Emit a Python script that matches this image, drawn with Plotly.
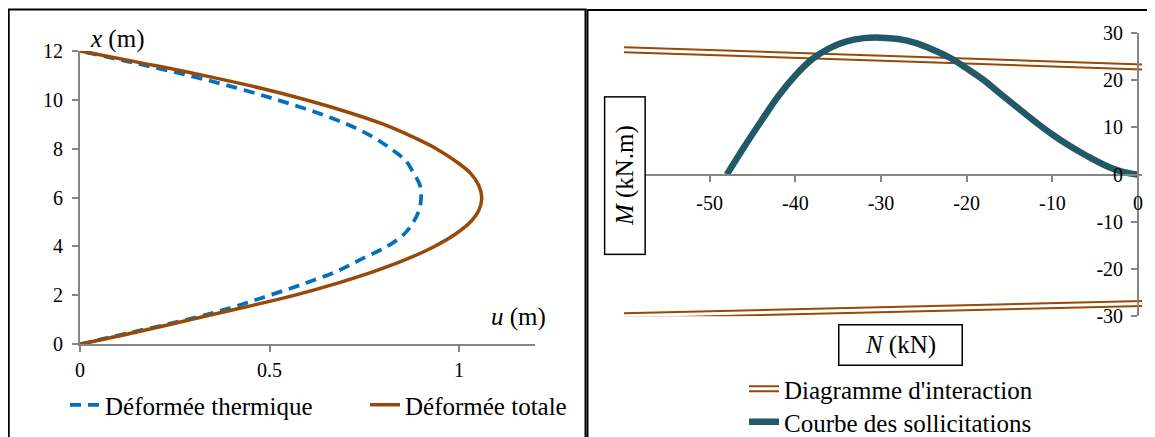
import plotly.graph_objects as go

W, H = 1155, 437
FONT = "Liberation Serif"
OFF = 8  # page body margin of the browser

# ---------------- data: left chart (deformed shapes) ----------------
x_pos = [0, 0.5, 1, 1.5, 2, 2.5, 3, 3.5, 4, 4.5, 5, 5.5, 6,
         6.5, 7, 7.5, 8, 8.5, 9, 9.5, 10, 10.5, 11, 11.5, 12]
u_thermique = [0, 0.14, 0.28, 0.40, 0.50, 0.595, 0.68, 0.745, 0.81, 0.855, 0.88, 0.895, 0.90,
               0.897, 0.88, 0.86, 0.82, 0.77, 0.705, 0.62, 0.52, 0.41, 0.285, 0.145, 0]
u_totale = [0, 0.15, 0.29, 0.43, 0.565, 0.68, 0.78, 0.865, 0.935, 0.99, 1.03, 1.053, 1.06,
            1.052, 1.03, 0.99, 0.94, 0.875, 0.80, 0.705, 0.595, 0.47, 0.325, 0.165, 0]

# ---------------- data: right chart (interaction) ----------------
N_interaction = [-60, 0.5, None, -60, 0.5]
M_interaction = [26.45, 22.8, None, -29.9, -27.3]

N_sollicitations = [-48, -46, -44, -42, -40, -38, -36, -34, -32, -30, -28, -26, -24,
                    -22, -20, -18, -16, -14, -12, -10, -8, -6, -4, -2, 0]
M_sollicitations = [0, 5.8, 11.3, 16.6, 21.0, 24.5, 26.8, 28.2, 28.9, 29.0, 28.7, 27.9, 26.5,
                    24.8, 22.5, 20.0, 17.0, 14.1, 11.2, 8.5, 6.1, 4.0, 2.1, 0.7, 0]

left_xtick_vals = [0, 0.5, 1]
left_xtick_text = ["0", "0.5", "1"]
left_ytick_vals = [0, 2, 4, 6, 8, 10, 12]
right_xtick_vals = [-50, -40, -30, -20, -10, 0]
right_xtick_text = ["-50", "-40", "-30", "-20", "-10", "0"]
right_ytick_vals = [-30, -20, -10, 0, 10, 20, 30]
right_ytick_text = ["-30", "-20", "-10", "0", "10", "20", "30"]

BLUE = "#0070C0"
BROWN = "#984807"
TEAL = "#215968"
AXIS_GRAY = "#868686"


def px(x):
    return (x - OFF) / W


def py(y):
    return 1 - (y - OFF) / H


fig = go.Figure()

fig.add_trace(go.Scatter(x=u_thermique, y=x_pos, mode="lines", name="Déformée thermique",
                         line=dict(color=BLUE, width=3.75, dash="11px,7px", shape="spline"),
                         xaxis="x", yaxis="y", legend="legend"))
fig.add_trace(go.Scatter(x=u_totale, y=x_pos, mode="lines", name="Déformée totale",
                         line=dict(color=BROWN, width=3.5, shape="spline"),
                         xaxis="x", yaxis="y", legend="legend"))

fig.add_trace(go.Scatter(x=N_interaction, y=M_interaction, mode="lines", name="Diagramme d'interaction",
                         line=dict(color=BROWN, width=7), xaxis="x2", yaxis="y2", legend="legend2"))
fig.add_trace(go.Scatter(x=N_interaction, y=M_interaction, mode="lines", name=" ",
                         line=dict(color="white", width=3), xaxis="x2", yaxis="y2", legend="legend3"))
fig.add_trace(go.Scatter(x=N_sollicitations, y=M_sollicitations, mode="lines",
                         name="Courbe des sollicitations",
                         line=dict(color=TEAL, width=6.5, shape="spline"),
                         xaxis="x2", yaxis="y2", legend="legend4"))

axis_common = dict(showgrid=False, zeroline=False, showline=True, linecolor=AXIS_GRAY, linewidth=1.8,
                   ticks="outside", ticklen=6, tickwidth=1.5, tickcolor=AXIS_GRAY,
                   tickfont=dict(family=FONT, size=20, color="black"), automargin=False)

legend_font = dict(family=FONT, size=25, color="black")

fig.update_layout(
    width=W, height=H,
    margin=dict(l=0, r=0, t=0, b=0),
    paper_bgcolor="white", plot_bgcolor="white",
    font=dict(family=FONT, size=20, color="black"),
    xaxis=dict(domain=[px(80), px(534.8)], range=[0, 1.2], tickvals=left_xtick_vals,
               ticktext=left_xtick_text, anchor="y", ticklabelstandoff=1, **axis_common),
    yaxis=dict(domain=[py(345), py(51)], range=[0, 12], tickvals=left_ytick_vals,
               anchor="x", ticklabelstandoff=5, **axis_common),
    xaxis2=dict(domain=[px(624), px(1142.3)], range=[-60, 0.5], tickvals=right_xtick_vals,
                ticktext=right_xtick_text, anchor="free", position=py(175),
                ticklabelstandoff=4, **axis_common),
    yaxis2=dict(domain=[py(317), py(33)], range=[-30, 30], tickvals=right_ytick_vals,
                ticktext=right_ytick_text, anchor="free", position=px(1138), side="left",
                ticklabelstandoff=4, **axis_common),
    legend=dict(orientation="h", x=px(65), xanchor="left", y=py(405), yanchor="middle",
                font=legend_font, bgcolor="rgba(0,0,0,0)",
                entrywidth=255, entrywidthmode="pixels"),
    legend2=dict(x=px(744), xanchor="left", y=py(389), yanchor="middle",
                 font=legend_font, bgcolor="rgba(0,0,0,0)"),
    legend3=dict(x=px(744), xanchor="left", y=py(389), yanchor="middle",
                 font=legend_font, bgcolor="rgba(0,0,0,0)"),
    legend4=dict(x=px(744), xanchor="left", y=py(423), yanchor="middle",
                 font=legend_font, bgcolor="rgba(0,0,0,0)"),
    showlegend=True,
)

# axis titles
fig.add_annotation(text="<i>x</i> (m)", x=px(117), y=py(39), xref="paper", yref="paper",
                   showarrow=False, xanchor="center", yanchor="middle",
                   font=dict(family=FONT, size=25, color="black"))
fig.add_annotation(text="<i>u</i> (m)", x=px(518), y=py(318), xref="paper", yref="paper",
                   showarrow=False, xanchor="center", yanchor="middle",
                   font=dict(family=FONT, size=25, color="black"))
fig.add_annotation(text="<i>M</i> (kN.m)", x=px(624.5), y=py(176), xref="paper", yref="paper",
                   showarrow=False, xanchor="center", yanchor="middle", textangle=-90,
                   width=152, height=35, borderpad=2, bordercolor="black", borderwidth=1.5,
                   bgcolor="white", font=dict(family=FONT, size=25, color="black"))
fig.add_annotation(text="<i>N</i> (kN)", x=px(900.5), y=py(346), xref="paper", yref="paper",
                   showarrow=False, xanchor="center", yanchor="middle",
                   width=118, height=35, borderpad=2, bordercolor="black", borderwidth=1.5,
                   bgcolor="white", font=dict(family=FONT, size=25, color="black"))

# panel frames
fig.add_shape(type="rect", xref="paper", yref="paper", x0=px(8.7), y0=py(470), x1=px(585.5), y1=py(9.5),
              line=dict(color="black", width=2), layer="above")
fig.add_shape(type="rect", xref="paper", yref="paper", x0=px(587.5), y0=py(470), x1=px(1190), y1=py(10),
              line=dict(color="black", width=2), layer="above")

fig.write_html("out.html")
